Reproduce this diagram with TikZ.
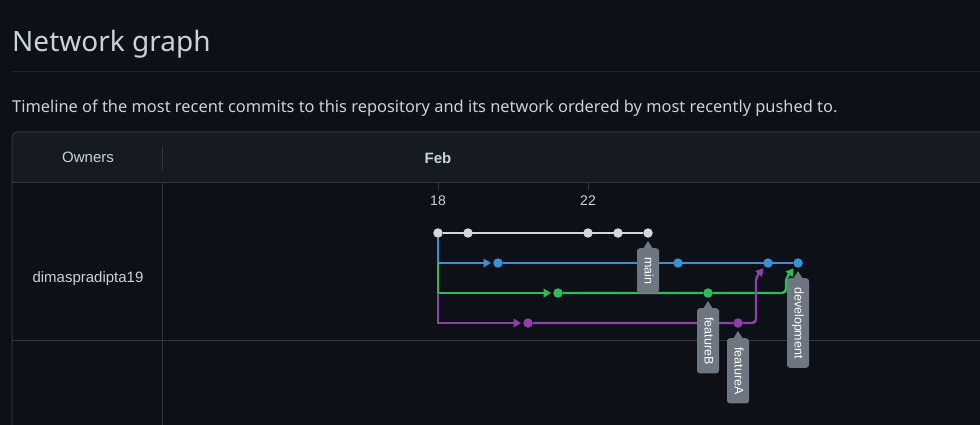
\documentclass[tikz,border=0pt]{standalone}
\usepackage{fontspec}
\setmainfont{Liberation Sans}
\newfontfamily\uifont{Noto Sans}
\usetikzlibrary{arrows.meta,calc,positioning}
\definecolor{bgcol}{HTML}{0D1117}
\definecolor{headcol}{HTML}{161B22}
\definecolor{gridcol}{HTML}{30363D}
\definecolor{rulecol}{HTML}{21262D}
\definecolor{txtcol}{HTML}{C9D1D9}
\definecolor{maincol}{HTML}{D3D7DC}
\definecolor{devcol}{HTML}{3791D6}
\definecolor{fbcol}{HTML}{2EBB5C}
\definecolor{facol}{HTML}{8D3FAA}
\definecolor{tagcol}{HTML}{6E7681}

\begin{document}
\begin{tikzpicture}[x=1pt,y=-1pt,
	commit/.style={circle,fill=#1,inner sep=0pt,minimum size=9.5pt},
	branch/.style={draw=#1,line width=2.4pt},
	arrow/.style={-{Triangle[length=7.5pt,width=8.5pt]},shorten >=2pt},
	tag/.style={fill=tagcol,rounded corners=3pt,rotate=-90,anchor=west,text=white,
		font=\fontsize{12.5}{13}\selectfont,inner xsep=9pt,inner ysep=0pt,
		minimum height=22pt,text height=9pt,text depth=2pt},
	label/.style={text=txtcol,font=\fontsize{15}{17}\selectfont}]
	% page and table
	\useasboundingbox[fill=bgcol] (0,0) rectangle (980,425);
	\node[anchor=base west,inner sep=0pt,text=txtcol,font=\uifont\fontsize{28}{32}\selectfont] (title) at (12,52) {Network graph};
	\draw[rulecol,line width=1pt] (12,72) -- (980,72);
	\node[anchor=base west,inner sep=0pt,text=txtcol,font=\uifont\fontsize{16.4}{19}\selectfont] (intro) at (12,113) {Timeline of the most recent commits to this repository and its network ordered by most recently pushed to.};
	\fill[headcol] (12,182) [rounded corners=6pt] -- (12,132) -- (1000,132) [sharp corners] -- (1000,182) -- cycle;
	\draw[gridcol,line width=1pt] (12,440) [rounded corners=6pt] -- (12,132) -- (1000,132);
	\draw[gridcol,line width=1pt] (12,182) -- (980,182) (12,340) -- (980,340);
	\draw[gridcol,line width=1pt] (162,146) -- (162,170) (162,182) -- (162,425);
	\node[label] (owners) at (88,157) {Owners};
	\node[label,font=\bfseries\fontsize{15}{17}\selectfont] (month) at (438,158) {Feb};
	\node[label] (owner) at (88,279) {dimaspradipta19};
	\foreach \x/\d in {438/18,588/22} {
		\draw[gridcol,line width=1pt] (\x,182) -- (\x,190);
		\node[label,font=\fontsize{14}{15}\selectfont] (day\d) at (\x,201) {\d};
	}
	% commits
	\foreach \i/\x in {1/438,2/468,3/588,4/618,5/648}
		\node[commit=maincol] (m\i) at (\x,233) {};
	\foreach \i/\x in {1/498,2/678,3/768,4/798}
		\node[commit=devcol] (d\i) at (\x,263) {};
	\foreach \i/\x in {1/558,2/708}
		\node[commit=fbcol] (b\i) at (\x,293) {};
	\foreach \i/\x in {1/528,2/738}
		\node[commit=facol] (a\i) at (\x,323) {};
	\coordinate (mergeA) at (756,277);
	\coordinate (mergeB) at (786,278);
	% branches
	\draw[branch=maincol] (m1) -- (m5);
	\draw[branch=devcol,arrow] (m1.south) |- (d1);
	\draw[branch=devcol] (d1) -- (d4);
	\draw[branch=fbcol,arrow] (m1 |- d1) |- (b1);
	\draw[branch=fbcol,arrow,rounded corners=4pt] (b1) -- (b2) -| (mergeB) -- (d4);
	\draw[branch=facol,arrow] (m1 |- b1) |- (a1);
	\draw[branch=facol,arrow,rounded corners=4pt] (a1) -- (a2) -| (mergeA) -- (d3);
	% branch tags
	\foreach \c/\t in {m5/main,b2/featureB,a2/featureA,d4/development} {
		\node[tag] (tag-\c) at ($(\c)+(0,15)$) {\t};
		\fill[tagcol] ($(tag-\c.west)+(-5,1)$) -- ($(\c)+(0,8)$) -- ($(tag-\c.west)+(5,1)$) -- cycle;
	}
\end{tikzpicture}
\end{document}
